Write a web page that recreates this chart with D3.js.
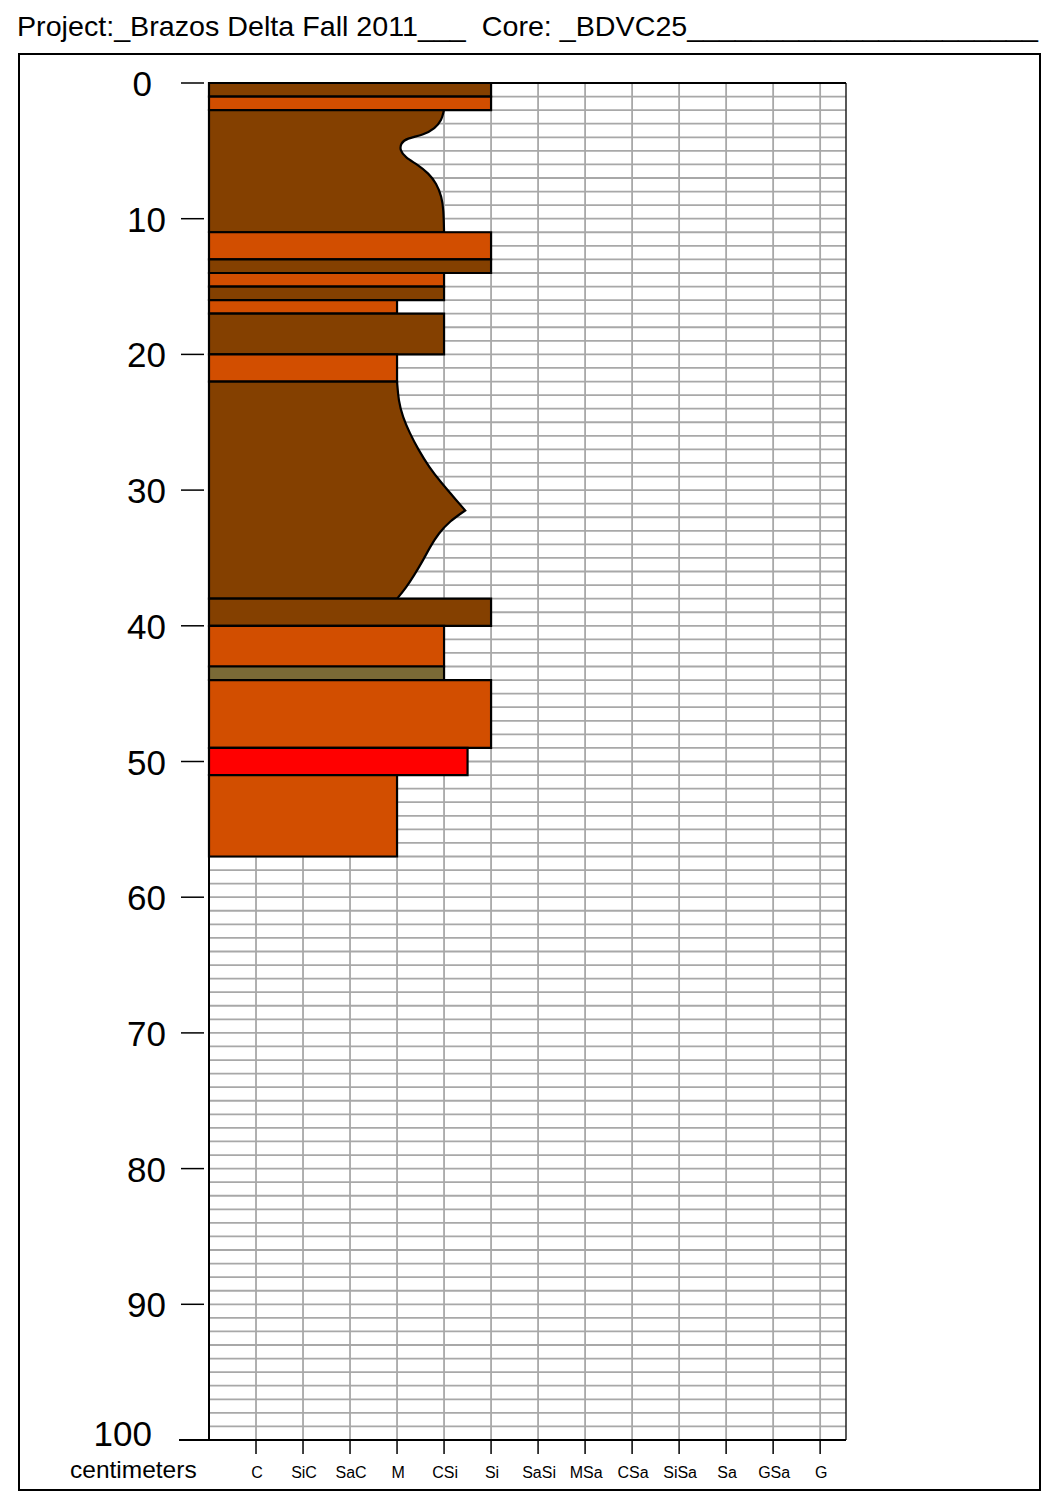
<!DOCTYPE html>
<html>
<head>
<meta charset="utf-8">
<script src="https://cdn.jsdelivr.net/npm/d3@7"></script>
<style>
  body { margin: 0; background: #fff; }
  text { font-family: "Liberation Sans", Arial, Helvetica, sans-serif; fill: #000; }
</style>
</head>
<body>
<script>
// ---------- DATA ----------
const titleText = "Project:_Brazos Delta Fall 2011___  Core: _BDVC25" + "_".repeat(22);
const depthTicks = [0, 10, 20, 30, 40, 50, 60, 70, 80, 90, 100];
const grainClasses = ["C", "SiC", "SaC", "M", "CSi", "Si", "SaSi", "MSa", "CSa", "SiSa", "Sa", "GSa", "G"];

// layers: top depth, base depth (cm), grain index (0 = axis, 1 = C ... 13 = G), lithology
const layerTop   = [0, 1, 2,  11, 13, 14, 15, 16, 17, 20, 22, 38, 40, 43, 44, 49,  51];
const layerBase  = [1, 2, 11, 13, 14, 15, 16, 17, 20, 22, 38, 40, 43, 44, 49, 51,  57];
const layerGrain = [6, 6, null, 6, 6, 5, 5, 4, 5, 4, null, 6, 5, 5, 6, 5.5, 4];
const layerLith  = ["mud", "silt", "mud", "silt", "mud", "silt", "mud", "silt", "mud", "silt", "mud", "mud", "silt", "olive", "silt", "sand", "silt"];

// curved grain-size profiles [depth, grain] for layers with variable grain
const profile2to11 = [
  [[2, 5.0], [2.1, 4.99], [2.73, 4.95], [3.34, 4.81], [3.83, 4.56], [4.08, 4.2], [4.45, 4.08], [4.94, 4.06],
   [5.48, 4.17], [6.04, 4.45], [6.66, 4.67], [7.4, 4.84], [8.38, 4.95], [9.36, 4.99], [11, 5.0]]
];
const profile22to38 = [
  [[22, 4.0], [23.4, 4.03], [24.6, 4.12], [25.8, 4.27], [27.0, 4.45], [28.3, 4.68], [29.5, 4.95], [30.7, 5.25], [31.5, 5.45]],
  [[31.5, 5.45], [32.3, 5.12], [33.2, 4.88], [34.2, 4.7], [35.2, 4.55], [36.3, 4.36], [37.2, 4.19], [38, 4.0]]
];
const layerProfile = {2: profile2to11, 10: profile22to38};

const lithNames  = ["mud", "silt", "olive", "sand"];
const lithColors = ["#844000", "#D24E00", "#7A6A36", "#FF0000"];

// ---------- CHART ----------
const W = 1064, H = 1492;
const svg = d3.select("body").append("svg").attr("width", W).attr("height", H);

const y = d3.scaleLinear().domain([0, 100]).range([83, 1440]);
const x = d3.scaleLinear().domain([0, 13.55]).range([209, 846]);
const color = d3.scaleOrdinal().domain(lithNames).range(lithColors);

// title
svg.append("text")
  .attr("x", 17).attr("y", 36)
  .attr("font-size", 28)
  .attr("textLength", 1021)
  .attr("lengthAdjust", "spacingAndGlyphs")
  .style("white-space", "pre")
  .text(titleText);

// outer frame
svg.append("rect")
  .attr("x", 19).attr("y", 54).attr("width", 1021).attr("height", 1436)
  .attr("fill", "none").attr("stroke", "#000").attr("stroke-width", 2);

// grid
const grid = svg.append("g").attr("stroke", "#a8a8a8").attr("stroke-width", 1.8);
grid.selectAll("line.h").data(d3.range(1, 100)).join("line")
  .attr("class", "h")
  .attr("x1", x(0)).attr("x2", x(13.55))
  .attr("y1", d => y(d)).attr("y2", d => y(d));
grid.selectAll("line.v").data(grainClasses).join("line")
  .attr("class", "v")
  .attr("x1", (d, i) => x(i + 1)).attr("x2", (d, i) => x(i + 1))
  .attr("y1", y(0)).attr("y2", y(100));

// right border & top border
svg.append("line").attr("x1", x(13.55)).attr("x2", x(13.55)).attr("y1", y(0)).attr("y2", y(100))
  .attr("stroke", "#222").attr("stroke-width", 1.5);
svg.append("line").attr("x1", x(0)).attr("x2", x(13.55)).attr("y1", y(0)).attr("y2", y(0))
  .attr("stroke", "#000").attr("stroke-width", 2);

// layers
const profLine = d3.line().x(d => x(d[1])).y(d => y(d[0])).curve(d3.curveBasis);
function layerPath(i) {
  const t = layerTop[i], b = layerBase[i];
  const prof = layerProfile[i];
  if (!prof) {
    const g = layerGrain[i];
    return `M${x(0)},${y(t)}L${x(g)},${y(t)}L${x(g)},${y(b)}L${x(0)},${y(b)}Z`;
  }
  let p = `M${x(0)},${y(t)}`;
  prof.forEach(seg => { p += profLine(seg).replace(/^M/, "L"); });
  p += `L${x(0)},${y(b)}Z`;
  return p;
}
svg.append("g").selectAll("path").data(layerTop).join("path")
  .attr("d", (d, i) => layerPath(i))
  .attr("fill", (d, i) => color(layerLith[i]))
  .attr("stroke", "#000").attr("stroke-width", 2.2).attr("stroke-linejoin", "miter");

// left axis
svg.append("line").attr("x1", x(0)).attr("x2", x(0)).attr("y1", y(0)).attr("y2", y(100))
  .attr("stroke", "#000").attr("stroke-width", 2);
const yAx = svg.append("g");
yAx.selectAll("line").data(depthTicks).join("line")
  .attr("x1", 181).attr("x2", 204)
  .attr("y1", d => y(d)).attr("y2", d => y(d))
  .attr("stroke", "#000").attr("stroke-width", 1.5);
const lastTick = depthTicks.length - 1;
yAx.selectAll("text").data(depthTicks).join("text")
  .attr("x", (d, i) => (i === 0 || i === lastTick) ? 152 : 166)
  .attr("y", (d, i) => i === lastTick ? y(d) + 6 : y(d) + 13)
  .attr("text-anchor", "end").attr("font-size", 35)
  .text(d => d);

// bottom axis
svg.append("line").attr("x1", 179).attr("x2", x(13.55)).attr("y1", y(100)).attr("y2", y(100))
  .attr("stroke", "#000").attr("stroke-width", 2);
const xAx = svg.append("g");
xAx.selectAll("line").data(grainClasses).join("line")
  .attr("x1", (d, i) => x(i + 1)).attr("x2", (d, i) => x(i + 1))
  .attr("y1", y(100)).attr("y2", y(100) + 14)
  .attr("stroke", "#000").attr("stroke-width", 1.5);
xAx.selectAll("text").data(grainClasses).join("text")
  .attr("x", (d, i) => x(i + 1) + 1).attr("y", 1478)
  .attr("text-anchor", "middle").attr("font-size", 16)
  .text(d => d);

svg.append("text").attr("x", 70).attr("y", 1478).attr("font-size", 24.5).text("centimeters");
</script>
</body>
</html>
